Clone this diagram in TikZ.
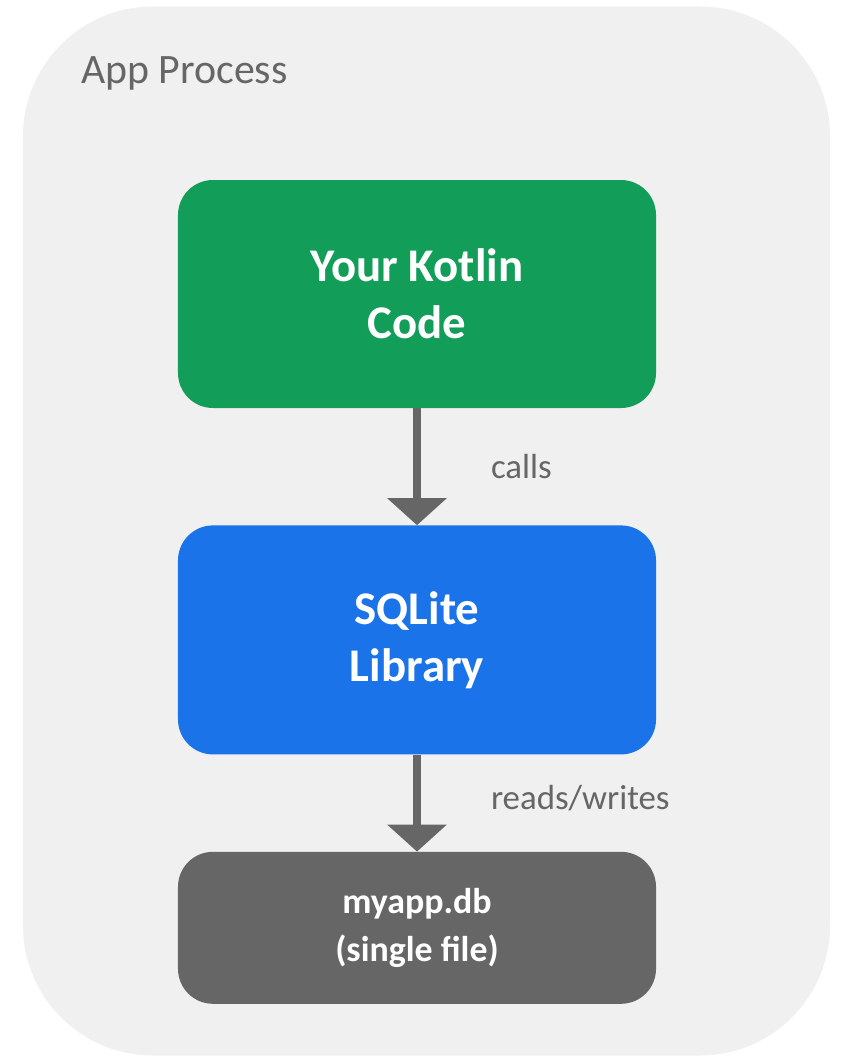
\documentclass[tikz,border=0pt]{standalone}
\usepackage{fontspec}
\setmainfont{Carlito}
\usetikzlibrary{positioning,arrows.meta}

\definecolor{procgray}{HTML}{F0F0F0}
\definecolor{kotlingreen}{HTML}{129E58}
\definecolor{sqliteblue}{HTML}{1A73E8}
\definecolor{dbgray}{HTML}{666666}
\definecolor{arrowgray}{HTML}{666666}
\definecolor{labelgray}{HTML}{666666}

\begin{document}
\begin{tikzpicture}[x=1bp, y=-1bp, node distance=117bp,
    box/.style={rounded corners=35bp, minimum width=478bp, text=white, align=center,
                font=\bfseries\fontsize{47}{57}\selectfont},
    flow/.style={draw=arrowgray, line width=8bp, -{Triangle[width=58bp,length=27bp]}},
    lbl/.style={text=labelgray, inner sep=0pt, font=\fontsize{35}{42}\selectfont}]
  \useasboundingbox (0,0) rectangle (841,1057);

  % process frame
  \node[fill=procgray, rounded corners=130bp, minimum width=807bp, minimum height=1049bp] (proc) at (426.5,531) {};
  \node[lbl, anchor=west, font=\fontsize{42}{50}\selectfont] (title) at (81,73) {App Process};

  % stack
  \node[box, fill=kotlingreen, minimum height=228bp] (code) at (417,294) {Your Kotlin\\Code};
  \node[box, fill=sqliteblue, minimum height=229bp, below=of code] (lib) {SQLite\\Library};
  \node[box, fill=dbgray, minimum height=152bp, below=97bp of lib,
        font=\bfseries\fontsize{36}{48}\selectfont] (db) {myapp.db\\(single file)};

  \draw[flow] (code) -- node[lbl, right=70bp] {calls} (lib);
  \draw[flow] (lib) -- node[lbl, right=70bp, yshift=5bp] {reads/writes} (db);
\end{tikzpicture}
\end{document}
